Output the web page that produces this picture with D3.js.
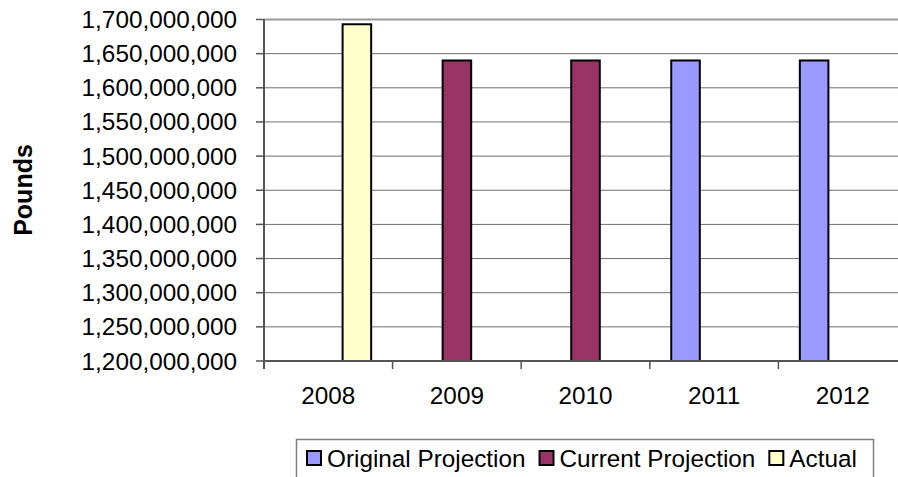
<!DOCTYPE html>
<html>
<head>
<meta charset="utf-8">
<script src="https://cdn.jsdelivr.net/npm/d3@7"></script>
<style>
  body { margin: 0; background: #fff; }
  svg { display: block; font-family: "Liberation Sans", Arial, sans-serif; }
</style>
</head>
<body>
<div id="root"></div>
<script>
const years = ['2008', '2009', '2010', '2011', '2012'];
const seriesNames = ['Original Projection', 'Current Projection', 'Actual'];
const originalProjection = [null, null, null, 1640000000, 1640000000];
const currentProjection = [null, 1640000000, 1640000000, null, null];
const actual = [1693000000, null, null, null, null];
const yTicks = [1200000000, 1250000000, 1300000000, 1350000000, 1400000000, 1450000000,
  1500000000, 1550000000, 1600000000, 1650000000, 1700000000];
const colors = ['#9999ff', '#993366', '#ffffcc'];

const W = 898, H = 477;
const plotLeft = 264, plotRight = 907, plotTop = 19.5, plotBottom = 361;
const fontSize = 24.3;

const svg = d3.select('#root').append('svg')
  .attr('width', W)
  .attr('height', H);

const x0 = d3.scaleBand().domain(years).range([plotLeft, plotRight]).padding(0);
// excel style: 3 bars per group, gap width 150%
const bw = x0.bandwidth();
const x1 = d3.scaleBand().domain(seriesNames)
  .range([bw * 0.75 / 4.5, bw * 3.75 / 4.5]).padding(0);
const y = d3.scaleLinear().domain([1200000000, 1700000000]).range([plotBottom, plotTop]);
const fmt = d3.format(',');

// gridlines
svg.append('g').selectAll('line')
  .data(yTicks.slice(1, -1))
  .enter().append('line')
  .attr('x1', plotLeft).attr('x2', plotRight)
  .attr('y1', d => y(d)).attr('y2', d => y(d))
  .attr('stroke', '#6e6e6e')
  .attr('stroke-width', 1);

// top border of plot area
svg.append('line')
  .attr('x1', plotLeft).attr('x2', plotRight)
  .attr('y1', y(1700000000)).attr('y2', y(1700000000))
  .attr('stroke', '#9a9a9a')
  .attr('stroke-width', 2);

// bars
const allSeries = [originalProjection, currentProjection, actual];
const rows = [];
allSeries.forEach((vals, si) => {
  vals.forEach((v, i) => {
    if (v != null) rows.push({ year: years[i], series: seriesNames[si], value: v, si: si });
  });
});

svg.append('g').selectAll('rect')
  .data(rows)
  .enter().append('rect')
  .attr('x', d => x0(d.year) + x1(d.series))
  .attr('y', d => y(d.value))
  .attr('width', x1.bandwidth())
  .attr('height', d => y(1200000000) - y(d.value))
  .attr('fill', d => colors[d.si])
  .attr('stroke', '#000')
  .attr('stroke-width', 2);

// y axis
const yAxis = svg.append('g');
yAxis.append('line')
  .attr('x1', plotLeft).attr('x2', plotLeft)
  .attr('y1', plotTop).attr('y2', plotBottom + 8)
  .attr('stroke', '#555')
  .attr('stroke-width', 2);
yAxis.selectAll('line.tick')
  .data(yTicks)
  .enter().append('line')
  .attr('class', 'tick')
  .attr('x1', plotLeft - 8).attr('x2', plotLeft)
  .attr('y1', d => y(d)).attr('y2', d => y(d))
  .attr('stroke', '#555')
  .attr('stroke-width', 1.5);
yAxis.selectAll('text')
  .data(yTicks)
  .enter().append('text')
  .attr('x', 237)
  .attr('y', d => y(d))
  .attr('dy', '0.35em')
  .attr('text-anchor', 'end')
  .attr('font-size', fontSize)
  .attr('fill', '#000')
  .text(d => fmt(d));

// x axis
const xAxis = svg.append('g');
xAxis.append('line')
  .attr('x1', plotLeft).attr('x2', plotRight)
  .attr('y1', plotBottom).attr('y2', plotBottom)
  .attr('stroke', '#555')
  .attr('stroke-width', 2);
xAxis.selectAll('line.tick')
  .data(years.slice(1))
  .enter().append('line')
  .attr('class', 'tick')
  .attr('x1', d => x0(d)).attr('x2', d => x0(d))
  .attr('y1', plotBottom).attr('y2', plotBottom + 8)
  .attr('stroke', '#555')
  .attr('stroke-width', 1.5);
xAxis.selectAll('text')
  .data(years)
  .enter().append('text')
  .attr('x', d => x0(d) + bw / 2)
  .attr('y', 404)
  .attr('text-anchor', 'middle')
  .attr('font-size', fontSize)
  .attr('fill', '#000')
  .text(d => d);

// y title
svg.append('text')
  .attr('transform', 'translate(32,190) rotate(-90)')
  .attr('text-anchor', 'middle')
  .attr('font-size', 25)
  .attr('font-weight', 'bold')
  .text('Pounds');

// legend
const legend = svg.append('g');
legend.append('rect')
  .attr('x', 296.5).attr('y', 439.5)
  .attr('width', 577).attr('height', 45)
  .attr('fill', '#fff')
  .attr('stroke', '#808080')
  .attr('stroke-width', 1.5);
let lx = 307;
seriesNames.forEach((name, i) => {
  legend.append('rect')
    .attr('x', lx).attr('y', 451)
    .attr('width', 14).attr('height', 14)
    .attr('fill', colors[i])
    .attr('stroke', '#000')
    .attr('stroke-width', 2);
  const t = legend.append('text')
    .attr('x', lx + 20)
    .attr('y', 467)
    .attr('font-size', fontSize)
    .attr('fill', '#000')
    .text(name);
  lx = lx + 20 + t.node().getComputedTextLength() + 14;
});
</script>
</body>
</html>
